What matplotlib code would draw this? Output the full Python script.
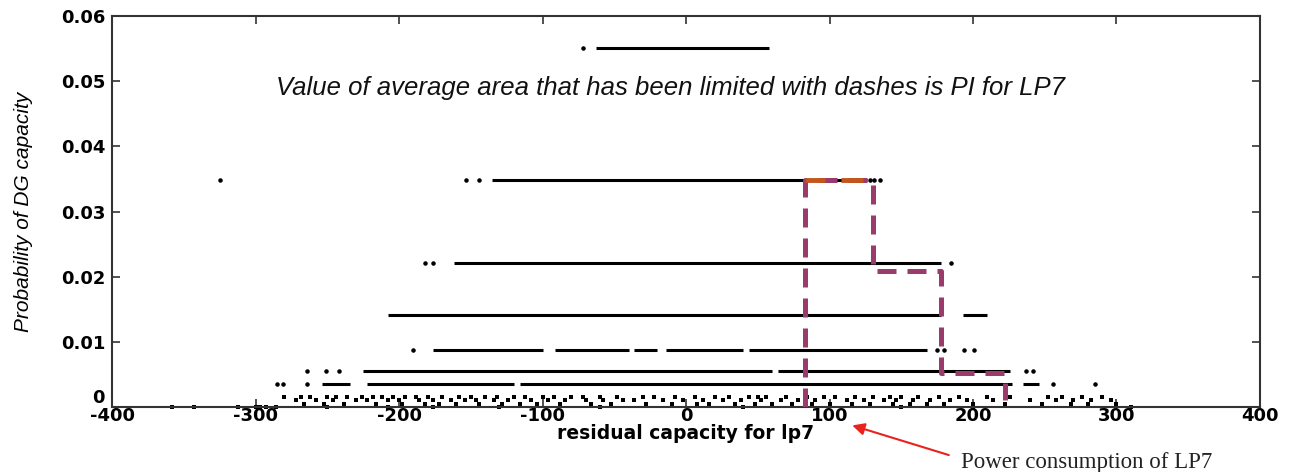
import matplotlib
matplotlib.use("Agg")
import matplotlib.pyplot as plt

# probability levels of DG capacity and the residual capacity ranges seen at each level
levels = [0.0551, 0.0348, 0.0221, 0.0141, 0.0087, 0.0055, 0.0035]
level_segments = [
    [(-63, 58)],
    [(-135, 126)],
    [(-162, 178)],
    [(-208, 178), (193, 210)],
    [(-176, -100), (-91, -40), (-36, -20), (-14, 40), (44, 168)],
    [(-225, 60), (64, 226)],
    [(-254, -234), (-222, -120), (-116, 227), (235, 246)],
]
level_dots = [
    [-72],
    [-325, -153, -144, 128, 131, 135],
    [-182, -176, 185],
    [],
    [-190, 175, 180, 194, 201],
    [-264, -251, -242, 237, 242],
    [-285, -281, -264, 256, 285],
]

# sparse low-probability outcomes near the bottom
low_rows = [0.0016, 0.0010, 0.0005, 0.0]
low_x = [
    [-280, -268, -262, -250, -244, -236, -226, -218, -212, -204, -196, -188, -180, -170,
     -158, -150, -140, -132, -120, -112, -100, -92, -80, -72, -60, -48, -30, -22, -8, 6,
     20, 30, 44, 50, 56, 70, 84, 96, 104, 118, 130, 142, 150, 162, 176, 190, 210, 226,
     252, 262, 276, 290],
    [-272, -258, -246, -230, -222, -208, -200, -186, -176, -164, -154, -146, -134, -124,
     -108, -96, -84, -70, -58, -44, -36, -16, -2, 12, 26, 38, 52, 66, 78, 90, 112, 124,
     138, 146, 158, 170, 184, 196, 214, 240, 258, 270, 282, 296],
    [-266, -252, -238, -216, -198, -182, -172, -160, -144, -128, -116, -104, -88, -66,
     -52, -28, -10, 8, 16, 34, 48, 60, 74, 88, 100, 116, 128, 144, 156, 168, 180, 200,
     222, 248, 268, 280, 300],
    [-358, -343, -312, -300, -297, -293, -286, -250, -208, -176, -130, -60, 40, 150, 200,
     310],
]

# dashed step outline (PI area for LP7)
step_x = [83, 83, 130, 130, 178, 178, 222, 222]
step_y = [0.0, 0.0348, 0.0348, 0.0209, 0.0209, 0.0052, 0.0052, 0.0010]
orange_segs = [(83, 97), (108, 123)]

x_ticks = [-400, -300, -200, -100, 0, 100, 200, 300, 400]
y_ticks = [0, 0.01, 0.02, 0.03, 0.04, 0.05, 0.06]
y_tick_labels = ["0", "0.01", "0.02", "0.03", "0.04", "0.05", "0.06"]

plt.rcParams["font.family"] = ["Liberation Sans", "DejaVu Sans"]

fig = plt.figure(figsize=(12.89, 4.72), dpi=100)
ax = fig.add_axes([0.0869, 0.1377, 0.8906, 0.8284])

for lvl, segs, dots in zip(levels, level_segments, level_dots):
    for x0, x1 in segs:
        ax.hlines(lvl, x0, x1, color="black", linewidth=2.2, zorder=2)
    ax.scatter(dots, [lvl] * len(dots), s=5, color="black", zorder=2)

for lvl, xs in zip(low_rows, low_x):
    ax.scatter(xs, [lvl] * len(xs), s=9, color="black", marker="s", zorder=2,
               clip_on=False, linewidths=0)

ax.plot(step_x, step_y, color="#9b3b6c", linewidth=3.6, linestyle=(0, (3.8, 2.2)),
        zorder=3)
for x0, x1 in orange_segs:
    ax.hlines(levels[1], x0, x1, color="#c2561c", linewidth=3.5, zorder=4)

ax.text(-11, 0.049, "Value of average area that has been limited with dashes is PI for LP7",
        style="italic", fontsize=18.5, ha="center", va="center", color="#111111")

tick_font = dict(family=["DejaVu Sans"], fontweight="bold", fontsize=13)
ax.set_xlim(-400, 400)
ax.set_ylim(0, 0.06)
ax.set_xticks(x_ticks)
ax.set_xticklabels([str(v) for v in x_ticks], **tick_font)
ax.set_yticks(y_ticks)
ax.set_yticklabels(y_tick_labels, **tick_font)
ax.tick_params(axis="x", direction="in", length=6, width=1.2, top=True, pad=0,
               color="#333333")
ax.tick_params(axis="y", direction="in", length=6, width=1.2, right=True, pad=5,
               color="#333333")
ax.get_yticklabels()[0].set_va("bottom")
for sp in ax.spines.values():
    sp.set_linewidth(1.5)
    sp.set_color("#333333")

ax.set_xlabel("residual capacity for lp7", family=["DejaVu Sans"], fontweight="bold",
              fontsize=13.5, labelpad=-1)
ax.set_ylabel("Probability of DG capacity", style="italic", fontsize=15,
              family=["Liberation Sans Narrow", "Liberation Sans", "DejaVu Sans"],
              labelpad=20)

ax.annotate("", xy=(114, -0.0027), xytext=(185, -0.0075), xycoords="data",
            arrowprops=dict(arrowstyle="-|>", color="#e8231f", lw=1.5,
                            mutation_scale=18), annotation_clip=False)
ax.text(279, -0.0085, "Power consumption of LP7", family=["Liberation Serif", "DejaVu Serif"],
        fontsize=16.5, ha="center", va="center", color="#222222", clip_on=False)

fig.savefig("out.png", dpi=100)
